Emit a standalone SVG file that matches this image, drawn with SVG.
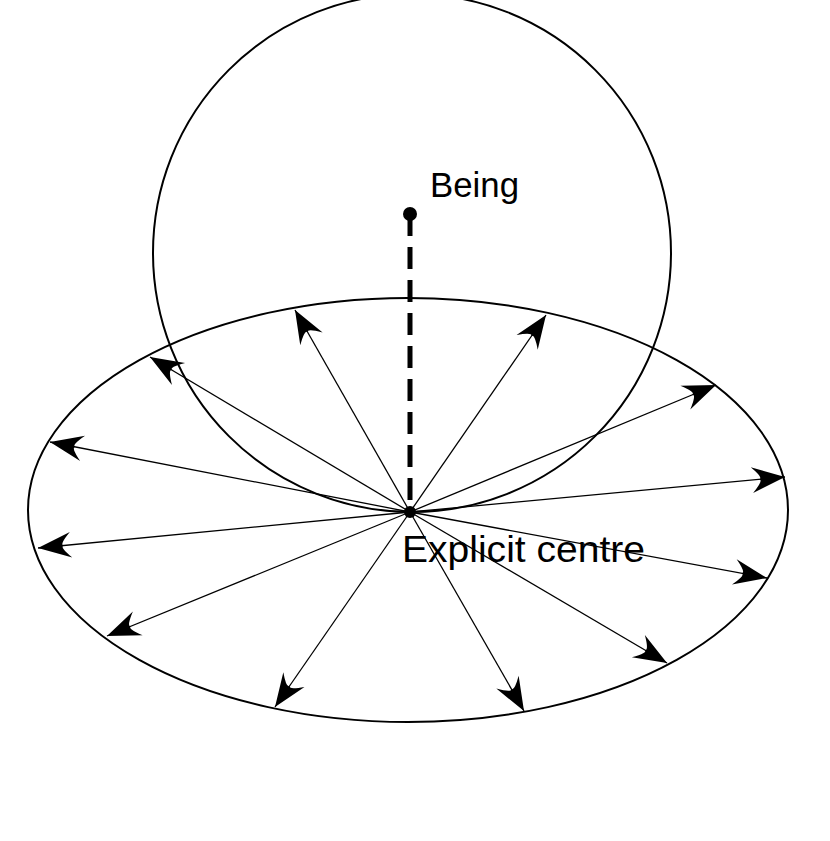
<svg xmlns="http://www.w3.org/2000/svg" width="830" height="841" viewBox="0 0 830 841">
<style>
.outline{fill:none;stroke:#000;stroke-width:2}
.ray{stroke:#000;stroke-width:1.3;fill:none;marker-end:url(#ah)}
.lbl{font-family:"Liberation Sans",Arial,sans-serif;font-size:35px;fill:#000}
</style>
<defs>
<marker id="ah" markerUnits="userSpaceOnUse" markerWidth="40" markerHeight="30" viewBox="-32 -14 34 28" refX="0" refY="0" orient="auto">
<path d="M0,0 L-31,-12 Q-20,-1 -24,0 Q-20,1 -31,12 Z" fill="#000"/>
</marker>
</defs>
<rect width="830" height="841" fill="#fff"/>
<g id="being-circle"><circle class="outline" cx="412" cy="253" r="259"/></g>
<g id="field-ellipse"><ellipse class="outline" cx="408" cy="510" rx="380" ry="212"/></g>
<g id="connectors">
<line x1="410" y1="214" x2="410" y2="512" stroke="#000" stroke-width="5" stroke-dasharray="22,11"/>
<line class="ray" x1="410" y1="512" x2="295" y2="310"/>
<line class="ray" x1="410" y1="512" x2="546" y2="315"/>
<line class="ray" x1="410" y1="512" x2="150" y2="357"/>
<line class="ray" x1="410" y1="512" x2="716" y2="385"/>
<line class="ray" x1="410" y1="512" x2="50" y2="442"/>
<line class="ray" x1="410" y1="512" x2="785" y2="477"/>
<line class="ray" x1="410" y1="512" x2="38" y2="548"/>
<line class="ray" x1="410" y1="512" x2="767" y2="578"/>
<line class="ray" x1="410" y1="512" x2="107" y2="636"/>
<line class="ray" x1="410" y1="512" x2="667" y2="663"/>
<line class="ray" x1="410" y1="512" x2="275" y2="707"/>
<line class="ray" x1="410" y1="512" x2="524" y2="711"/>
</g>
<g id="being"><circle cx="410" cy="214" r="7" fill="#000"/><text class="lbl" x="430" y="197" textLength="89" lengthAdjust="spacingAndGlyphs">Being</text></g>
<g id="explicit-centre"><circle cx="410" cy="512" r="6" fill="#000"/><text class="lbl" x="402" y="562" style="font-size:36px" textLength="243" lengthAdjust="spacingAndGlyphs">Explicit centre</text></g>
</svg>
